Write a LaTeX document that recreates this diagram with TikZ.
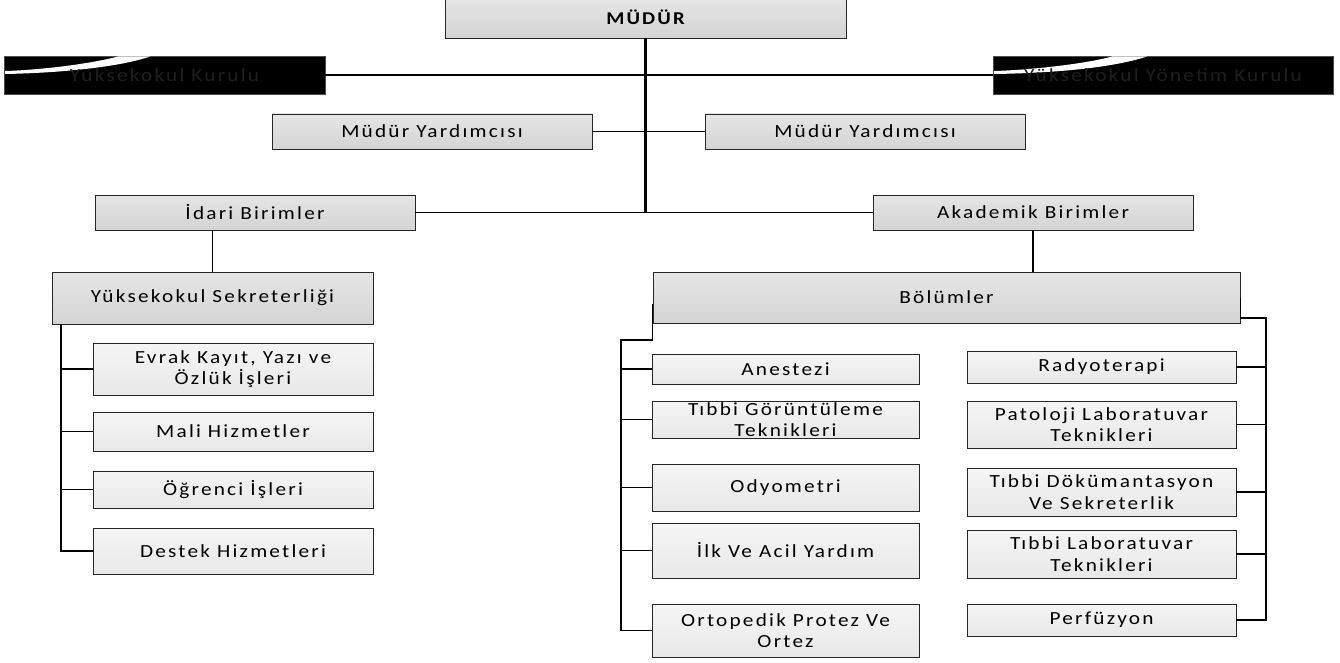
\documentclass[tikz,border=0pt]{standalone}
\usepackage{fontspec}
\newfontfamily\spaced[LetterSpace=12,FakeStretch=1.15]{Carlito}
\begin{document}
\begin{tikzpicture}[x=1pt,y=-1pt,
  box/.style={draw=black!85, line width=0.9pt, align=center, inner sep=0.5pt,
    font=\spaced\fontsize{18.5}{21.5}\selectfont},
  topbox/.style={box, top color=black!10, bottom color=black!17},
  subbox/.style={box, top color=black!4, bottom color=black!9},
  kurulbox/.style={box, fill=black, draw=black!70},
  link/.style={line width=1.7pt},
  trunk/.style={line width=2.6pt}]
\useasboundingbox (0,0) rectangle (1340,663);

% Top of the chart
\node[topbox, minimum width=401pt, minimum height=41pt, font=\spaced\bfseries\fontsize{18}{21}\selectfont] (mudur) at (645.5,17.5) {MÜDÜR};

% Boards on both sides, black with a white swoosh
\node[kurulbox, minimum width=321pt, minimum height=38pt] (kurul) at (164.5,75) {};
\node[kurulbox, minimum width=340pt, minimum height=38pt] (yonetim) at (1163,75) {};
\fill[white] (5,74) .. controls (60,73) and (120,67) .. (150,56.5) -- (118,56.5) .. controls (90,64) and (40,70) .. (5,71) -- cycle;
\fill[white] (994,74) .. controls (1060,73) and (1115,67) .. (1147,56.5) -- (1112,56.5) .. controls (1085,64) and (1030,70) .. (994,71) -- cycle;
\node[text=black!88, font=\spaced\fontsize{18.5}{21.5}\selectfont] (kurulT) at (kurul) {Yüksekokul Kurulu};
\node[text=black!88, font=\spaced\fontsize{18.5}{21.5}\selectfont] (yonetimT) at (yonetim) {Yüksekokul Yönetim Kurulu};

% Deputies
\node[topbox, minimum width=320pt, minimum height=35pt] (myl) at (432,131.5) {Müdür Yardımcısı};
\node[topbox, minimum width=320pt, minimum height=35pt] (myr) at (865,131.5) {Müdür Yardımcısı};

% Units
\node[topbox, minimum width=320pt, minimum height=35pt] (idari) at (255,212.5) {İdari Birimler};
\node[topbox, minimum width=320pt, minimum height=35pt] (akademik) at (1033,212.5) {Akademik Birimler};
\node[topbox, minimum width=321pt, minimum height=52pt] (sekreter) at (212.5,298) {Yüksekokul Sekreterliği};
\node[topbox, minimum width=587pt, minimum height=51pt] (bolumler) at (946.5,297.5) {Bölümler};

% Offices under the secretary
\foreach \n/\y/\h/\t in {evrak/369/52/{Evrak Kayıt, Yazı ve\\Özlük İşleri},
    mali/431.5/39/{Mali Hizmetler}, ogrenci/489.5/37/{Öğrenci İşleri},
    destek/551/46/{Destek Hizmetleri}}
  \node[subbox, minimum width=280pt, minimum height=\h pt] (\n) at (233,\y) {\t};

% Departments, left column
\foreach \n/\y/\h/\t in {anestezi/369/30/{Anestezi},
    goruntu/419.5/37/{Tıbbi Görüntüleme\\Teknikleri}, odyo/487.5/47/{Odyometri},
    ilk/550.5/55/{İlk Ve Acil Yardım}, orto/630.5/53/{Ortopedik Protez Ve\\Ortez}}
  \node[subbox, minimum width=267pt, minimum height=\h pt] (\n) at (785.5,\y) {\t};

% Departments, right column
\foreach \n/\y/\h/\t in {radyo/367/32/{Radyoterapi},
    patoloji/424.5/47/{Patoloji Laboratuvar\\Teknikleri}, dokuman/492/48/{Tıbbi Dökümantasyon\\Ve Sekreterlik},
    lab/554/48/{Tıbbi Laboratuvar\\Teknikleri}, perf/620/32/{Perfüzyon}}
  \node[subbox, minimum width=269pt, minimum height=\h pt] (\n) at (1101.5,\y) {\t};

% Connectors
\draw[trunk] (mudur.south) -- (mudur.south |- idari.east);
\draw[link] (kurul.east) -- (yonetim.west);
\draw[link] (myl.east) -- (myr.west);
\draw[link] (idari.east) -- (akademik.west);
\draw[link] (sekreter.north) -- (sekreter.north |- idari.south);
\draw[link] (akademik.south) -- (akademik.south |- bolumler.north);

% Bus lines
\coordinate (sb) at (61,324);
\coordinate (bl) at (621,340);
\coordinate (br) at (1266,318);
\draw[link] (sb) |- (destek.west);
\foreach \n in {evrak,mali,ogrenci}
  \draw[link] (\n.west) -- (\n.west -| sb);
\draw[link] ([yshift=-6pt]bolumler.west) |- (bl) |- (orto.west);
\foreach \n in {anestezi,goruntu,odyo,ilk}
  \draw[link] (\n.west) -- (\n.west -| bl);
\draw[link] (bolumler.east) |- (br) |- (perf.east);
\foreach \n in {radyo,patoloji,dokuman,lab}
  \draw[link] (\n.east) -- (\n.east -| br);

\end{tikzpicture}
\end{document}
